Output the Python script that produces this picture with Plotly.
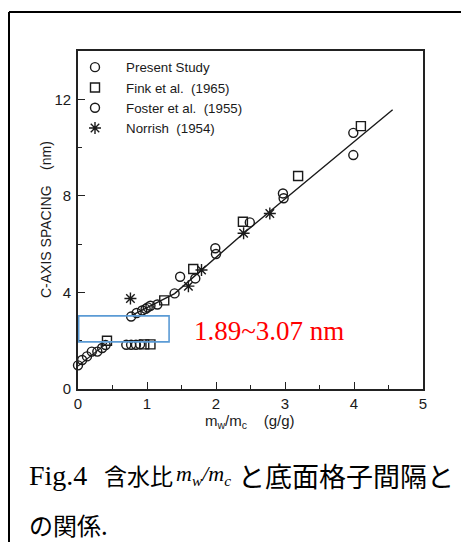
import plotly.graph_objects as go

# ---- data ----
present_x = [0.0, 0.06, 0.13, 0.20, 0.28, 0.35, 0.40, 0.70, 0.77, 0.84, 0.90, 0.77, 0.85, 0.93, 0.98, 1.01, 1.05]
present_y = [0.98, 1.20, 1.35, 1.55, 1.55, 1.70, 1.82, 1.83, 1.83, 1.83, 1.85, 3.00, 3.15, 3.25, 3.32, 3.38, 3.45]

fink_x = [0.42, 0.96, 1.05, 1.25, 1.67, 2.39, 3.19, 4.10]
fink_y = [2.00, 1.85, 1.85, 3.67, 4.97, 6.93, 8.82, 10.89]

foster_x = [1.15, 1.40, 1.48, 1.70, 1.99, 2.00, 2.49, 2.97, 2.98, 3.99, 3.99]
foster_y = [3.50, 3.96, 4.65, 4.58, 5.83, 5.59, 6.90, 8.10, 7.90, 10.61, 9.69]

norrish_x = [0.76, 1.60, 1.79, 2.40, 2.78]
norrish_y = [3.75, 4.26, 4.93, 6.45, 7.27]

fit_x = [0.78, 1.40, 2.40, 4.56]
fit_y = [3.05, 3.95, 6.45, 11.57]
low_x = [0.0, 0.42]
low_y = [0.95, 1.90]

box_x = [0.01, 1.32]
box_y = [1.95, 3.03]
range_label = "1.89~3.07 nm"

names = ["Present Study", "Fink et al.  (1965)", "Foster et al.  (1955)", "Norrish  (1954)"]

INK = "#1a1a1a"
pad = "\u00a0\u00a0\u00a0"

fig = go.Figure()
fig.add_trace(go.Scatter(x=fit_x, y=fit_y, mode="lines", line=dict(color=INK, width=1.4),
                         showlegend=False, hoverinfo="skip"))
fig.add_trace(go.Scatter(x=low_x, y=low_y, mode="lines", line=dict(color=INK, width=1.2),
                         showlegend=False, hoverinfo="skip"))
mk = dict(color=INK, size=9, line=dict(color=INK, width=1.4))
fig.add_trace(go.Scatter(x=present_x, y=present_y, mode="markers", name=pad + names[0],
                         marker=dict(symbol="circle-open", **mk), cliponaxis=False))
fig.add_trace(go.Scatter(x=fink_x, y=fink_y, mode="markers", name=pad + names[1],
                         marker=dict(symbol="square-open", **mk), cliponaxis=False))
fig.add_trace(go.Scatter(x=foster_x, y=foster_y, mode="markers", name=pad + names[2],
                         marker=dict(symbol="circle-open", **mk), cliponaxis=False))
fig.add_trace(go.Scatter(x=norrish_x, y=norrish_y, mode="markers", name=pad + names[3],
                         marker=dict(symbol="asterisk-open", color=INK, size=10,
                                     line=dict(color=INK, width=1.4)), cliponaxis=False))

# page has an 8px body margin: figure is drawn 8px in from the page corner
OFF = 8
W, H = 461, 534
L, R, T, B = 70, 46, 43, 153
pw, ph = W - L - R, H - T - B


def px(xp):
    return (xp - OFF - L) / pw


def py(yp):
    return (H - B - (yp - OFF)) / ph


fig.add_shape(type="rect", xref="x", yref="y", x0=box_x[0], x1=box_x[1], y0=box_y[0], y1=box_y[1],
              line=dict(color="#5b9bd5", width=1.6), fillcolor="rgba(0,0,0,0)")

# outer frame (top and left edges)
fig.add_shape(type="line", xref="paper", yref="paper", x0=px(9), x1=px(480), y0=py(12), y1=py(12),
              line=dict(color="black", width=2))
fig.add_shape(type="line", xref="paper", yref="paper", x0=px(9), x1=px(9), y0=py(12), y1=py(560),
              line=dict(color="black", width=2))

fig.add_annotation(x=2.77, y=2.4, xref="x", yref="y", text=range_label, showarrow=False,
                   font=dict(family="Liberation Serif", size=27, color="#ff0000"))

fig.add_annotation(x=px(46), y=0.5, xref="paper", yref="paper", textangle=-90,
                   xanchor="center", yanchor="middle",
                   text="C-AXIS SPACING\u00a0\u00a0\u00a0\u00a0(nm)", showarrow=False,
                   font=dict(family="Liberation Sans", size=14, color=INK))
fig.add_annotation(x=px(250), y=py(421), xref="paper", yref="paper", xanchor="center", yanchor="middle",
                   text="m<sub>w</sub>/m<sub>c</sub>\u00a0\u00a0\u00a0\u00a0(g/g)", showarrow=False,
                   font=dict(family="Liberation Sans", size=15, color=INK))

# caption
cap_y1, cap_y2 = py(475), py(524)
fig.add_annotation(x=px(27), y=cap_y1, xref="paper", yref="paper", xanchor="left", yanchor="middle",
                   text="Fig.4", showarrow=False, font=dict(family="Liberation Serif", size=28, color="black"))
fig.add_annotation(x=px(102), y=cap_y1, xref="paper", yref="paper", xanchor="left", yanchor="middle",
                   text="含水比", showarrow=False, font=dict(family="Noto Sans CJK JP", size=23, color="black"))
fig.add_annotation(x=px(174), y=cap_y1, xref="paper", yref="paper", xanchor="left", yanchor="middle",
                   text="<i>m<sub>w</sub>/m<sub>c</sub></i>", showarrow=False,
                   font=dict(family="Liberation Serif", size=22, color="black"))
fig.add_annotation(x=px(236), y=cap_y1, xref="paper", yref="paper", xanchor="left", yanchor="middle",
                   text="と底面格子間隔と", showarrow=False,
                   font=dict(family="Noto Sans CJK JP", size=27, color="black"))
fig.add_annotation(x=px(27), y=cap_y2, xref="paper", yref="paper", xanchor="left", yanchor="middle",
                   text="の関係.", showarrow=False, font=dict(family="Noto Sans CJK JP", size=24, color="black"))

axis_common = dict(showline=True, linecolor="#222", linewidth=1.6, mirror=True, showgrid=False,
                   zeroline=False, ticks="inside", tickcolor="#222", tickwidth=1.3, ticklen=7,
                   tickfont=dict(family="Liberation Sans", size=15, color=INK))
fig.update_xaxes(range=[0, 5], dtick=1, tick0=0,
                 minor=dict(dtick=0.5, ticks="inside", ticklen=4, tickcolor="#222", tickwidth=1.2),
                 **axis_common)
fig.update_yaxes(range=[0, 14], dtick=4, tick0=0, ticklabelstandoff=2,
                 minor=dict(dtick=2, ticks="inside", ticklen=4, tickcolor="#222", tickwidth=1.2),
                 **axis_common)

fig.update_layout(
    width=W, height=H, margin=dict(l=L, r=R, t=T, b=B),
    paper_bgcolor="white", plot_bgcolor="white",
    legend=dict(x=px(75), y=py(52), xanchor="left", yanchor="top", bgcolor="rgba(0,0,0,0)",
                font=dict(family="Liberation Sans", size=13.3, color=INK), itemwidth=30, tracegroupgap=0),
)

fig.write_html("out.html")
